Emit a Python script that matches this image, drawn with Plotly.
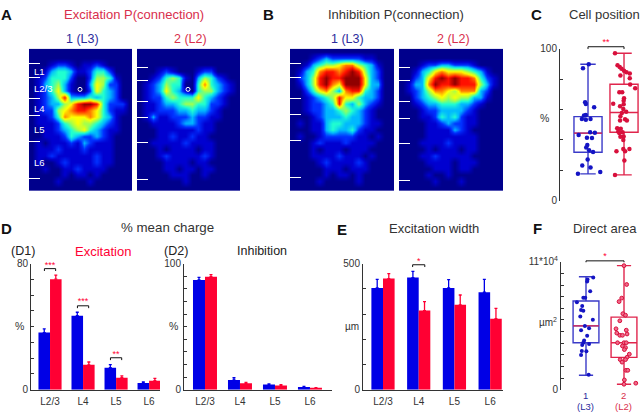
import plotly.graph_objects as go

W, H = 640, 418
BLUE, RED = "#0000e6", "#ff0033"
TXT_BLUE, TXT_RED = "#2b2b9c", "#d92f4c"
BOX_BLUE, BOX_RED = "#3a3ac8", "#e0254c"
DARK = "#333333"
FONT = "Liberation Sans"

# --- connection probability maps, levels 0-9 per cell, top row first
exc_l3 = ["0000000000000000","0000000000000000","0001221011210000","0013443112442000",
          "0124442002554100","0134531003652200","0124631002643200","0123583334343200",
          "0123356899842220","0122567887642110","0112476667643100","0111245655432100",
          "0011234564321100","0011124322321000","0101112132111000","0111211121111000",
          "0112111111211000","0100121111211000","0010011211110000","0000010110100000",
          "0000100001000000","0000000000000000"]
exc_l2 = ["0000000000000000","0000000000000000","0000000000000000","0001210001220000",
          "0012454103542100","0123544004743210","0123643104553210","0122454446432100",
          "0112334554422100","0112223343321000","0131122232211000","0011112332110000",
          "0001111112110000","0001121121100000","0011111211110000","0001011110110000",
          "0001211111210000","0000111101100000","0000110110110000","0000011100100000",
          "0000000100000000","0000000000000000"]
inh_l3 = ["0000000000000000","0001232222211000","0013455677543100","0134788789853200",
          "0235898899963200","0135897699963300","0024675378843200","0012345866433200",
          "0012234843532100","0012233454321000","0001233343321000","0101134433321100",
          "0001134334211000","0100122222110100","0001211121111000","0001011101110000",
          "0001111211101000","0000121111210000","0000011101110000","0000010110100000",
          "0000100000100000","0000000000000000"]
inh_l2 = ["0000000000000000","0000000000000000","0001223322210000","0013467666543100",
          "0023689898874210","0133798898885310","0123577657773200","0023456565533100",
          "0012334443321000","0001223333210000","0001124342110000","0000112322110000",
          "0000111132100000","0000111111110000","0001111211110000","0000101110110000",
          "0001121111100000","0000111101110000","0000011101100000","0000100100000000",
          "0000010001000000","0000000000000000"]
exc_l3_ticks = [15, 30, 51, 69, 96, 134]
exc_l2_ticks = [19, 33, 55, 71, 97, 135]
inh_l3_ticks = [15, 30, 51, 68, 95, 133]
inh_l2_ticks = [19, 33, 55, 72, 98, 136]
soma_xy_l3 = (51, 42)
soma_xy_l2 = (51, 42)
layer_names = ["L1", "L2/3", "L4", "L5", "L6"]
layer_depths = [24, 41, 62, 83, 118]

# --- bars
layers = ["L2/3", "L4", "L5", "L6"]
layer_pos = [0, 1, 2, 3]
d1_l3 = [36.3, 47.0, 14.0, 4.3]
d1_l3_err = [2.3, 2.2, 2.0, 0.6]
d1_l2 = [70.2, 15.8, 7.6, 5.7]
d1_l2_err = [2.6, 1.8, 1.2, 1.5]
d2_l3 = [87.2, 7.7, 4.1, 2.2]
d2_l3_err = [2.0, 1.8, 0.5, 0.4]
d2_l2 = [89.7, 5.1, 3.3, 1.2]
d2_l2_err = [1.6, 0.8, 0.8, 0.4]
e_l3 = [404, 445, 404, 387]
e_l3_err = [34, 25, 33, 51]
e_l2 = [441, 314, 337, 282]
e_l2_err = [20, 36, 39, 41]

# --- cell position box plot (C)
c_l3_stats = dict(q1=31.9, median=44.5, q3=55.3, lowerfence=17.7, upperfence=89.8)
c_l2_stats = dict(q1=45.0, median=58.0, q3=76.6, lowerfence=17.0, upperfence=97.0)
c_l3_jit = [-.28,.34,-.16,.07,-.01,.14,.03,-.05,-.02,-.03,.11,-.26,.06,.19,-.06,-.17,-.11,-.06,.07,.17,-.08,-.06,-.14,.02]
c_l3_val = [17.7,18.9,23.2,21.9,27.2,32.1,33.2,35.1,36.6,41.5,41.3,43.2,45.1,44.7,53.2,53.8,56.0,56.4,53.8,61.5,64.7,63.6,87.2,89.8]
c_l2_jit = [-.25,-.25,-.18,-.12,-.07,0,.07,.16,-.10,.16,.17,.31,-.13,-.05,0,-.01,-.01,-.30,-.11,-.02,.06,-.06,-.10,.03,.08,-.11,-.19,-.09,-.16,-.04,-.13,-.01,-.10,-.21,-.02,-.02,.03,.15,.01]
c_l2_val = [17.0,97.0,89.1,87.9,86.8,85.5,84.5,83.6,82.3,80.6,76.4,74.0,71.3,71.3,67.4,65.7,63.4,63.8,62.1,60.4,58.5,57.7,55.5,53.6,52.8,52.8,47.7,47.4,45.5,45.1,44.5,42.3,42.1,32.6,40.0,34.0,32.6,34.0,26.4]

# --- direct area box plot (F), units of 1e4 um^2
f_l3_stats = dict(q1=4.04, median=5.49, q3=7.63, lowerfence=1.25, upperfence=9.72)
f_l2_stats = dict(q1=2.78, median=4.04, q3=6.24, lowerfence=0.47, upperfence=10.67)
f_l3_jit = [.19,.04,.03,.11,-.07,-.02,-.24,-.10,-.13,-.07,.18,-.15,-.03,.08,-.13,.03,-.05,-.07,.08,-.10,.01,-.13,-.11,.07]
f_l3_val = [9.66,9.47,9.30,8.47,7.91,7.91,7.52,7.21,6.85,6.80,6.02,6.29,5.49,5.29,5.12,4.65,4.23,4.04,3.93,3.84,3.31,2.98,3.34,1.28]
f_l2_jit = [0,.07,-.06,-.13,-.03,.04,-.11,-.21,.06,-.19,-.11,-.04,.08,-.17,0,.06,-.04,.04,.01,-.10,.08,.14,-.05,.05,.10,.01,0,.31,.04]
f_l2_val = [10.67,9.05,7.88,7.58,6.54,6.41,5.93,5.24,5.12,4.87,4.68,4.68,4.79,4.04,4.04,4.04,3.76,3.62,3.45,2.59,2.79,3.06,2.37,1.67,1.67,0.84,0.47,0.56,2.59]

jet = [[0/9, "#00008c"], [1/9, "#0000d0"], [2/9, "#0030ff"], [3/9, "#00b8ff"], [4/9, "#20ffd0"],
       [5/9, "#a0ff50"], [6/9, "#ffff00"], [7/9, "#ff8000"], [8/9, "#ff1000"], [9/9, "#900000"]]

fig = go.Figure()
layout = {}


def dom_x(a, b):
    return [a / W, b / W]


def dom_y(top, bottom):
    return [1 - bottom / H, 1 - top / H]


def add_axes(n, x0, x1, top, bottom, xa, ya):
    layout[f"xaxis{n}"] = dict(domain=dom_x(x0, x1), anchor=f"y{n}", **xa)
    layout[f"yaxis{n}"] = dict(domain=dom_y(top, bottom), anchor=f"x{n}", **ya)


def heat(n, rows, ticks, x0, x1):
    z = [[int(c) for c in r] for r in rows]
    fig.add_trace(go.Heatmap(z=z, x0=103 / 32, dx=103 / 16, y0=147 / 44, dy=147 / 22,
                             colorscale=jet, zmin=0, zmax=9, zsmooth="best", showscale=False,
                             xaxis=f"x{n}", yaxis=f"y{n}"))
    add_axes(n, x0, x1, 43, 190,
             dict(range=[0, 103], visible=False),
             dict(range=[147, 0], tickvals=ticks, ticks="inside", ticklen=11, tickwidth=1.3,
                  tickcolor="white", showticklabels=False, showline=False, showgrid=False, zeroline=False))


heat(1, exc_l3, exc_l3_ticks, 29, 132)
heat(2, exc_l2, exc_l2_ticks, 137, 240)
heat(3, inh_l3, inh_l3_ticks, 290, 394)
heat(4, inh_l2, inh_l2_ticks, 399, 503)
for n, p in ((1, soma_xy_l3), (2, soma_xy_l2)):
    fig.add_trace(go.Scatter(x=[p[0]], y=[p[1]], mode="markers", xaxis=f"x{n}", yaxis=f"y{n}",
                             marker=dict(size=4, color="rgba(0,0,0,0)", line=dict(color="white", width=1))))

ann = []


def text(px, py, s, size=10, color=DARK, bold=False, anchor="center"):
    ann.append(dict(x=px / W, y=1 - py / H, xref="paper", yref="paper", text=f"<b>{s}</b>" if bold else s,
                    showarrow=False, xanchor=anchor, yanchor="middle",
                    font=dict(size=size, color=color, family=FONT)))


for nm, d in zip(layer_names, layer_depths):
    ann.append(dict(x=32 / W, y=d, xref="paper", yref="y1", text=nm, showarrow=False, xanchor="left",
                    yanchor="middle", font=dict(size=9.5, color="white", family=FONT)))


def y_axis(rng, major, labels, minor):
    return dict(range=rng, tickvals=major, ticktext=labels, ticks="inside", ticklen=3, tickwidth=1,
                tickcolor=DARK, showline=True, linecolor=DARK, linewidth=1, showgrid=False, zeroline=False,
                tickfont=dict(size=10, color=DARK, family=FONT),
                minor=dict(tickvals=minor, ticks="inside", ticklen=3, tickwidth=1, tickcolor=DARK, showgrid=False))


def overlay(n, base, top, bottom, y_max):
    """Invisible axes over panel `base`, taller so brackets above the frame are not clipped."""
    b = layout[f"xaxis{base}"]
    layout[f"xaxis{n}"] = dict(domain=b["domain"], range=b["range"], visible=False, anchor=f"y{n}")
    layout[f"yaxis{n}"] = dict(domain=dom_y(top, bottom), range=[0, y_max], visible=False, anchor=f"x{n}")


def bracket(n, x0, x1, y, drop, stars, star_y):
    fig.add_trace(go.Scatter(x=[x0, x0, x1, x1], y=[y - drop, y, y, y - drop], mode="lines",
                             line=dict(color="#111111", width=1), xaxis=f"x{n}", yaxis=f"y{n}"))
    fig.add_trace(go.Scatter(x=[(x0 + x1) / 2], y=[star_y], mode="text", text=[stars], textposition="middle center",
                             textfont=dict(size=9, color=RED, family=FONT), cliponaxis=False,
                             xaxis=f"x{n}", yaxis=f"y{n}"))


def bars(n, x0, x1, rng, blue, blue_e, red, red_e, w, major, labels, minor, xr):
    for vals, errs, col, off in ((blue, blue_e, BLUE, -w), (red, red_e, RED, 0)):
        fig.add_trace(go.Bar(x=layer_pos, y=vals, width=w, offset=off, marker=dict(color=col, line=dict(width=0)),
                             error_y=dict(type="data", symmetric=False, array=errs, arrayminus=[0] * 4,
                                          color=col, thickness=1.3, width=1.5),
                             cliponaxis=False, xaxis=f"x{n}", yaxis=f"y{n}"))
    add_axes(n, x0, x1, 265, 395,
             dict(range=xr, tickvals=layer_pos, ticktext=layers, showline=True, ticklabelstandoff=2,
                  linecolor=DARK, linewidth=1, ticks="", showgrid=False, zeroline=False,
                  tickfont=dict(size=10, color=DARK, family=FONT)),
             y_axis(rng, major, labels, minor))


bars(6, 31, 160, [0, 80], d1_l3, d1_l3_err, d1_l2, d1_l2_err, 0.35,
     [0, 80], ["0", "80"], list(range(10, 80, 10)), [-0.576, 3.33])
bars(7, 184, 332, [0, 100], d2_l3, d2_l3_err, d2_l2, d2_l2_err, 0.343,
     [0, 100], ["0", "100"], list(range(10, 100, 10)), [-0.6, 3.63])
bars(8, 363, 503, [0, 500], e_l3, e_l3_err, e_l2, e_l2_err, 0.325,
     [0, 500], ["0", "500"], list(range(100, 500, 100)), [-0.56, 3.36])

bracket(6, -0.17, 0.17, 76.9, 1.5, "***", 78.5)
bracket(6, 0.83, 1.17, 53.3, 1.5, "***", 55.6)
bracket(6, 1.83, 2.17, 20.3, 1.5, "**", 22.5)
overlay(10, 8, 250, 395, 557.7)
bracket(10, 0.83, 1.17, 496, 9, "*", 507)


def boxes(n, x0, x1, top, bottom, rng, x_rng, w, s1, s2, j1, v1, j2, v2, major, labels, minor, red_pt, size):
    for pos, s, col in ((1, s1, BOX_BLUE), (2, s2, BOX_RED)):
        fig.add_trace(go.Box(x=[pos], q1=[s["q1"]], median=[s["median"]], q3=[s["q3"]],
                             lowerfence=[s["lowerfence"]], upperfence=[s["upperfence"]],
                             width=w, boxpoints=False, whiskerwidth=0.55,
                             line=dict(color=col, width=1.4), fillcolor="rgba(0,0,0,0)",
                             xaxis=f"x{n}", yaxis=f"y{n}"))
    fig.add_trace(go.Scatter(x=[1 - w / 2, 1 + w / 2], y=[s1["median"]] * 2, mode="lines",
                             line=dict(color=BOX_RED, width=1.2), xaxis=f"x{n}", yaxis=f"y{n}"))
    fig.add_trace(go.Scatter(x=[1 + j for j in j1], y=v1, mode="markers", cliponaxis=False,
                             marker=dict(size=size, color="#1414c4"), xaxis=f"x{n}", yaxis=f"y{n}"))
    fig.add_trace(go.Scatter(x=[2 + j for j in j2], y=v2, mode="markers", cliponaxis=False, marker=red_pt,
                             xaxis=f"x{n}", yaxis=f"y{n}"))
    add_axes(n, x0, x1, top, bottom, dict(range=x_rng, visible=False), y_axis(rng, major, labels, minor))


boxes(5, 560, 640, 43, 200, [0, 100], [0.222, 2.444], 0.78, c_l3_stats, c_l2_stats,
      c_l3_jit, c_l3_val, c_l2_jit, c_l2_val, [0, 100], ["0", "100"], [20, 40, 60, 80],
      dict(size=4.5, color="#d8103c"), 4.5)
boxes(9, 561, 640, 263, 395, [0, 11], [0.342, 2.421], 0.68, f_l3_stats, f_l2_stats,
      f_l3_jit, f_l3_val, f_l2_jit, f_l2_val, [0, 11], ["0", "11*10<sup>4</sup>"], list(range(1, 11)),
      dict(size=3.8, color="#f06a8a", line=dict(color="#d8103c", width=1)), 4)
overlay(11, 5, 28, 200, 109.6)
bracket(11, 1, 2, 101.3, 1.5, "**", 104)
overlay(12, 9, 250, 395, 12.08)
bracket(12, 1, 2, 11.08, 0.12, "*", 11.4)

# Titles and labels
text(6, 8, "A", 15, "#111111", True)
text(268, 8, "B", 15, "#111111", True)
text(536, 8, "C", 15, "#111111", True)
text(6, 229, "D", 15, "#111111", True)
text(342, 230, "E", 15, "#111111", True)
text(537, 229, "F", 15, "#111111", True)
text(134, 8, "Excitation P(connection)", 13, TXT_RED)
text(396, 8, "Inhibition P(connection)", 13, "#333333")
text(82, 33, "1 (L3)", 12.5, TXT_BLUE)
text(190, 33, "2 (L2)", 12.5, TXT_RED)
text(347, 33, "1 (L3)", 12.5, TXT_BLUE)
text(453, 33, "2 (L2)", 12.5, TXT_RED)
text(604, 8, "Cell position", 13, "#333333")
text(167, 228, "% mean charge", 13.3, "#333333")
text(434, 229, "Excitation width", 13, "#333333")
text(605, 229, "Direct area", 13, "#333333")
text(23, 252, "(D1)", 12.5, "#222222")
text(176, 252, "(D2)", 12.5, "#222222")
text(103, 252, "Excitation", 13, RED)
text(262, 252, "Inhibition", 12.5, "#222222")
text(544, 115, "%", 10.5)
text(19, 329, "%", 10.5)
text(173, 329, "%", 10.5)
text(352, 330, "µm", 10)
text(548, 325, "µm<sup>2</sup>", 10)
text(585, 401, "1", 9.5, TXT_BLUE)
text(585, 412, "(L3)", 9.5, TXT_BLUE)
text(623, 401, "2", 9.5, TXT_RED)
text(623, 412, "(L2)", 9.5, TXT_RED)

fig.update_layout(width=W, height=H, margin=dict(l=0, r=0, t=0, b=0), showlegend=False,
                  paper_bgcolor="white", plot_bgcolor="rgba(0,0,0,0)", barmode="overlay",
                  font=dict(family=FONT), annotations=ann, **layout)
fig.write_html("out.html", post_script="document.body.style.margin='0';document.body.style.overflow='hidden';",
               config=dict(displayModeBar=False))
